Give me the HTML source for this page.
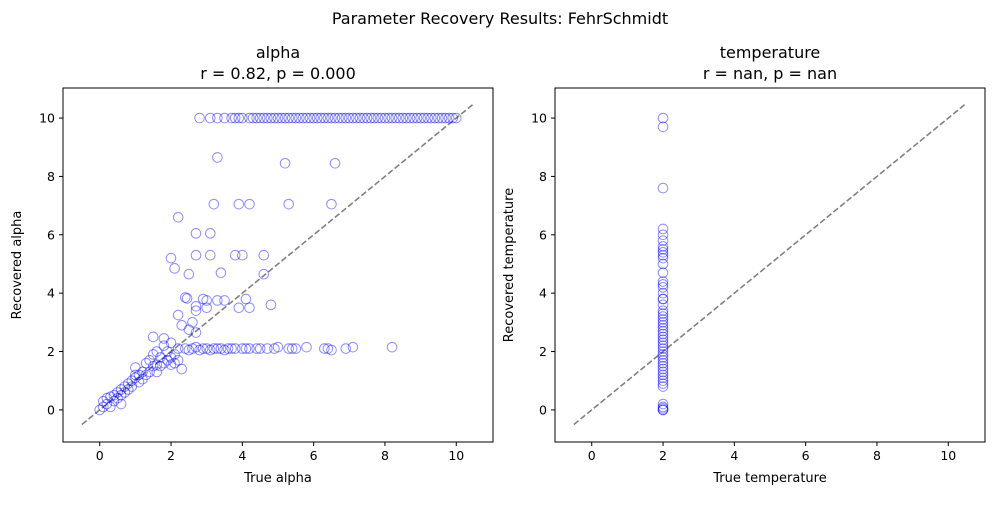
<!DOCTYPE html>
<html><head><meta charset="utf-8"><style>
body{margin:0;background:#fff;font-family:"Liberation Sans","DejaVu Sans",sans-serif}
svg text{font-family:"DejaVu Sans","Liberation Sans",sans-serif}
</style></head><body>
<svg id="chart" width="1000" height="500" viewBox="0 0 1000 500" xmlns="http://www.w3.org/2000/svg">
<text x="500" y="24" text-anchor="middle" font-size="16">Parameter Recovery Results: FehrSchmidt</text>
</svg>
<script>
const alphaTrue=[2.8,3.1,3.3,3.5,3.7,3.8,3.9,4.0,4.2,4.3,4.4,4.5,4.6,4.7,4.8,4.9,5.0,5.1,5.2,5.3,5.4,5.5,5.6,5.7,5.8,5.9,6.0,6.1,6.2,6.3,6.4,6.5,6.6,6.7,6.8,6.9,7.0,7.1,7.2,7.3,7.4,7.5,7.6,7.7,7.8,7.9,8.0,8.1,8.2,8.3,8.4,8.5,8.6,8.7,8.8,8.9,9.0,9.1,9.2,9.3,9.4,9.5,9.6,9.7,9.8,9.9,10.0,
3.3,5.2,6.6,3.2,3.9,4.2,5.3,6.5,2.2,2.7,3.1,2.0,2.7,3.1,3.8,4.0,4.6,2.1,2.5,3.4,4.6,2.4,2.45,2.7,2.9,3.0,3.3,3.5,4.1,2.7,3.0,3.9,4.2,4.8,2.2,2.3,2.6,2.7,2.5,
2.4,2.5,2.6,2.7,2.8,2.9,3.0,3.1,3.2,3.3,3.4,3.5,3.6,3.7,3.8,4.0,4.1,4.2,4.4,4.5,4.7,4.9,5.0,5.3,5.4,5.5,5.8,6.3,6.4,6.5,6.9,7.1,8.2,
0.0,0.1,0.1,0.2,0.2,0.3,0.3,0.4,0.4,0.5,0.5,0.6,0.6,0.7,0.7,0.8,0.8,0.9,0.9,1.0,1.0,1.1,1.1,1.2,1.2,1.3,1.3,1.4,1.4,1.5,1.5,1.6,1.6,1.7,1.7,1.8,1.8,1.9,1.9,2.0,2.0,2.1,2.1,2.2,2.2,2.3,1.5,1.8,0.6,1.0,2.0,1.6];
const alphaRec=[10,10,10,10,10,10,10,10,10,10,10,10,10,10,10,10,10,10,10,10,10,10,10,10,10,10,10,10,10,10,10,10,10,10,10,10,10,10,10,10,10,10,10,10,10,10,10,10,10,10,10,10,10,10,10,10,10,10,10,10,10,10,10,10,10,10,10,
8.65,8.45,8.45,7.05,7.05,7.05,7.05,7.05,6.6,6.05,6.05,5.2,5.3,5.3,5.3,5.3,5.3,4.85,4.65,4.7,4.65,3.85,3.82,3.55,3.8,3.75,3.75,3.75,3.8,3.4,3.5,3.5,3.5,3.6,3.25,2.9,3.0,2.65,2.75,
2.1,2.05,2.1,2.15,2.05,2.1,2.1,2.05,2.1,2.1,2.1,2.05,2.1,2.1,2.1,2.1,2.1,2.1,2.1,2.1,2.1,2.1,2.15,2.1,2.1,2.1,2.15,2.1,2.1,2.05,2.1,2.15,2.15,
0.0,0.3,0.1,0.2,0.4,0.45,0.1,0.5,0.3,0.6,0.4,0.7,0.5,0.8,0.6,0.9,0.7,1.0,0.8,1.45,1.1,1.2,0.95,1.3,1.05,1.6,1.2,1.7,1.3,1.9,1.5,2.0,1.3,1.8,1.5,2.2,1.6,2.0,1.7,2.3,1.8,1.9,1.6,2.1,1.7,1.4,2.5,2.45,0.2,1.2,1.55,1.55];
const tempTrue=[2,2,2,2,2,2,2,2,2,2,2,2,2,2,2,2,2,2,2,2,2,2,2,2,2,2,2,2,2,2,2,2,2,2,2,2,2,2,2,2,2,2,2,2,2,2,2,2,2,2,2,2];
const tempRec=[10.0,9.7,7.6,6.2,6.0,5.8,5.6,5.5,5.4,5.3,5.2,5.0,4.7,4.4,4.3,4.2,4.0,3.8,3.8,3.6,3.4,3.3,3.2,3.1,3.0,2.9,2.8,2.7,2.6,2.5,2.4,2.3,2.2,2.1,2.0,1.9,1.8,1.7,1.6,1.5,1.4,1.3,1.2,1.1,1.0,0.9,0.8,0.2,0.1,0.05,0.0,0.0];
const xTicks=[0,2,4,6,8,10];
const yTicks=[0,2,4,6,8,10];
const panels=[
 {name:'alpha',left:63,xs:alphaTrue,ys:alphaRec,t1:'alpha',t2:'r = 0.82, p = 0.000',xl:'True alpha',yl:'Recovered alpha'},
 {name:'temperature',left:555,xs:tempTrue,ys:tempRec,t1:'temperature',t2:'r = nan, p = nan',xl:'True temperature',yl:'Recovered temperature'}];
const NS='http://www.w3.org/2000/svg';
const svg=document.getElementById('chart');
function mk(tag,attrs,parent){const e=document.createElementNS(NS,tag);for(const k in attrs)e.setAttribute(k,attrs[k]);(parent||svg).appendChild(e);return e;}
const plotTop=88,plotBot=442,W=430;
const xmin=-1.03,xmax=11.03,ymin=-1.1,ymax=11.03;
panels.forEach(p=>{
 const g=mk('g',{});
 
 
 const X=v=>p.left+(v-xmin)/(xmax-xmin)*W;
 const Y=v=>plotBot-(v-ymin)/(ymax-ymin)*(plotBot-plotTop);
 const cx=p.left+W/2;
 let t=mk('text',{x:cx,y:58,'text-anchor':'middle','font-size':16},g);t.textContent=p.t1;
 
 
 t=mk('text',{x:cx,y:79,'text-anchor':'middle','font-size':16},g);t.textContent=p.t2;
 
 
 const ln=mk('line',{x1:X(-0.5),y1:Y(-0.5),x2:X(10.5),y2:Y(10.5),stroke:'#808080','stroke-width':1.6,'stroke-dasharray':'6,2.6'},g);
 
 
 p.xs.forEach((xv,i)=>{
  const c=mk('circle',{cx:X(xv),cy:Y(p.ys[i]),r:4.8,fill:'none',stroke:'rgba(0,0,255,0.45)','stroke-width':1},g);
  
  
 });
 const fr=mk('rect',{x:p.left,y:plotTop,width:W,height:plotBot-plotTop,fill:'none',stroke:'#000','stroke-width':1},g);
 
 
 xTicks.forEach(v=>{
  mk('line',{x1:X(v),y1:plotBot,x2:X(v),y2:plotBot+4,stroke:'#000'},g);
  const tx=mk('text',{x:X(v),y:plotBot+18,'text-anchor':'middle','font-size':12.5},g);tx.textContent=v;
  
  
 });
 yTicks.forEach(v=>{
  mk('line',{x1:p.left-4,y1:Y(v),x2:p.left,y2:Y(v),stroke:'#000'},g);
  const ty=mk('text',{x:p.left-8,y:Y(v)+4.5,'text-anchor':'end','font-size':12.5},g);ty.textContent=v;
  
  
 });
 t=mk('text',{x:cx,y:482,'text-anchor':'middle','font-size':13},g);t.textContent=p.xl;
 
 
 const yc=(plotTop+plotBot)/2;
 t=mk('text',{x:p.left-42,y:yc,'text-anchor':'middle','font-size':13,transform:`rotate(-90 ${p.left-42} ${yc})`},g);t.textContent=p.yl;
 
 
});
</script>
</body></html>
